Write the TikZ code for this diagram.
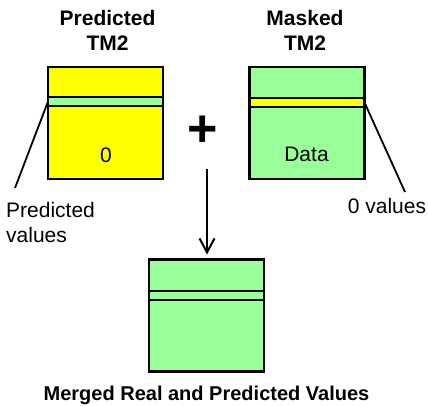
\documentclass[tikz,border=0pt]{standalone}
\usepackage{fontspec}
\setmainfont{Liberation Sans}
\usetikzlibrary{arrows.meta}
\definecolor{ylw}{RGB}{255,255,0}
\definecolor{grn}{RGB}{153,255,153}
\begin{document}
\begin{tikzpicture}[x=1pt,y=-1pt,
  box/.style={draw, line width=2.6pt, minimum width=115pt, minimum height=112pt, inner sep=0pt, outer sep=0pt},
  stripe/.style={draw, line width=2.6pt, minimum width=115pt, minimum height=9pt, inner sep=0pt, outer sep=0pt},
  lbl/.style={font=\fontsize{21}{25}\selectfont, inner sep=0pt},
  ttl/.style={font=\fontsize{21}{25}\selectfont\bfseries, align=center, inner sep=0pt},
  leader/.style={line width=1.8pt},
  flow/.style={line width=2pt, -{Straight Barb[length=14pt,width=15pt]}}]
\useasboundingbox (0,0) rectangle (428,406);
% titles
\node[ttl] (tl) at (107.5,30.5) {Predicted\\TM2};
\node[ttl] (tr) at (305,30.5) {Masked\\TM2};
% boxes
\node[box, fill=ylw] (lbox) at (105.5,123) {};
\node[stripe, fill=grn] (lstr) at (105.5,101.5) {};
\node[lbl] (zero) at (106,155) {0};
\node[box, fill=grn] (rbox) at (307,123) {};
\node[stripe, fill=ylw] (rstr) at (307,102.5) {};
\node[lbl] (data) at (306.5,154.5) {Data};
\node[box, fill=grn] (bbox) at (206.5,315.5) {};
\node[stripe, fill=grn] (bstr) at (206.5,295.5) {};
% plus
\node[inner sep=0pt, font=\fontsize{52}{52}\selectfont\bfseries] (plus) at (203,131) {+};
% leaders
\coordinate (lend) at (15,188);
\coordinate (rend) at (405,192);
\draw[leader] (lstr.west) -- (lend);
\draw[leader] (rstr.east) -- (rend);
\node[lbl, anchor=north west, align=left] (plab) at (6,202) {Predicted\\values};
\node[lbl, anchor=base] (zlab) at (387,213) {0 values};
% arrow
\coordinate (atop) at (207,169);
\draw[flow] (atop) -- ([yshift=5pt]atop |- bbox.north);
% bottom title
\node[font=\fontsize{20}{24}\selectfont\bfseries, inner sep=0pt, anchor=base] (btl) at (206.5,400) {Merged Real and Predicted Values};
\end{tikzpicture}
\end{document}
